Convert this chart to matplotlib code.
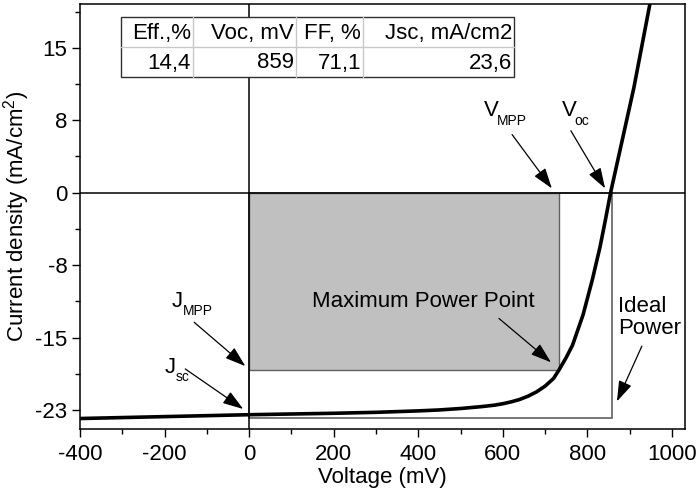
import numpy as np
import matplotlib
matplotlib.use('Agg')
import matplotlib.pyplot as plt
from matplotlib.patches import Rectangle
from matplotlib.ticker import MultipleLocator

plt.rcParams['font.family'] = ['Liberation Sans', 'DejaVu Sans']
plt.rcParams['axes.unicode_minus'] = False
plt.rcParams['mathtext.fontset'] = 'custom'
plt.rcParams['mathtext.rm'] = 'Liberation Sans'
plt.rcParams['mathtext.it'] = 'Liberation Sans'

# J-V curve
voltage = [-400, -200, 0, 200, 300, 400, 450, 500, 550, 580, 600, 620, 640,
           660, 680, 700, 720, 733, 750, 765, 790, 812, 830, 843, 855, 880,
           910, 948, 960]
current = [-23.7, -23.5, -23.3, -23.15, -23.05, -22.9, -22.8, -22.65, -22.45,
           -22.3, -22.15, -21.95, -21.7, -21.35, -20.9, -20.3, -19.5, -18.6,
           -17.3, -16.0, -12.8, -9.1, -5.7, -2.8, 0.0, 5.0, 11.0, 19.8, 22.5]

# cell parameters
v_oc = 859
j_sc = 23.6
v_mpp = 733
j_mpp = 18.6

table_headers = ['Eff.,%', 'Voc, mV', 'FF, %', 'Jsc, mA/cm2']
table_values = ['14,4', '859', '71,1', '23,6']

x_ticks = [-400, -200, 0, 200, 400, 600, 800, 1000]
y_ticks = [-22.8, -15.2, -7.6, 0, 7.6, 15.2]
y_tick_labels = ['-23', '-15', '-8', '0', '8', '15']

FS = 16
W, H = 698, 493
fig = plt.figure(figsize=(W / 100, H / 100), dpi=100)
ax = fig.add_axes([80 / W, 1 - 429 / H, 605 / W, 425 / H])

ax.set_xlim(-400, 1031)
ax.set_ylim(-24.8, 19.8)

# ideal power box and maximum power box
ax.add_patch(Rectangle((0, -j_sc), v_oc, j_sc, facecolor='none',
                       edgecolor='#606060', lw=1.2, zorder=2))
ax.add_patch(Rectangle((0, -j_mpp), v_mpp, j_mpp, facecolor='#c0c0c0',
                       edgecolor='#606060', lw=1.0, zorder=2))

ax.axhline(0, color='black', lw=1.1, zorder=3)
ax.axvline(0, color='black', lw=1.1, zorder=3)

ax.plot(voltage, current, color='black', lw=2.6, zorder=4)

ax.set_xticks(x_ticks)
ax.set_yticks(y_ticks)
ax.set_yticklabels(y_tick_labels)
ax.xaxis.set_minor_locator(MultipleLocator(100))
ax.yaxis.set_minor_locator(MultipleLocator(3.8))
ax.tick_params(which='major', direction='out', length=6, width=1,
               labelsize=FS, pad=3)
ax.tick_params(axis='x', which='major', pad=5)
ax.tick_params(which='minor', direction='out', length=3.5, width=1)
for s in ax.spines.values():
    s.set_linewidth(1.1)

ax.set_xlabel('Voltage (mV)', fontsize=FS, labelpad=1)
ax.set_ylabel('Current density (mA/cm$^2$)', fontsize=FS, labelpad=2)


def sub_label(x, y, main, sub, main_w):
    ax.text(x, y, main, fontsize=FS, ha='left', va='baseline')
    ax.annotate(sub, xy=(x, y), xytext=(main_w, -6), textcoords='offset points',
                fontsize=10, ha='left', va='baseline')


arr = dict(arrowstyle='-|>,head_length=0.9,head_width=0.3', color='black',
           lw=0.9, shrinkA=0, shrinkB=0, mutation_scale=14)

sub_label(556, 8.0, 'V', 'MPP', 9)
ax.annotate('', xy=(v_mpp - 17, 0.45), xytext=(622, 6.1), arrowprops=arr)

sub_label(740, 8.0, 'V', 'oc', 9)
ax.annotate('', xy=(v_oc - 17, 0.45), xytext=(761, 6.5), arrowprops=arr)

sub_label(-184, -12.0, 'J', 'MPP', 8)
ax.annotate('', xy=(-9, -j_mpp + 0.4), xytext=(-130, -13.6), arrowprops=arr)

sub_label(-199, -18.9, 'J', 'sc', 8)
ax.annotate('', xy=(-14, -j_sc + 0.9), xytext=(-151, -18.5), arrowprops=arr)

ax.text(412, -11.4, 'Maximum Power Point', fontsize=FS, ha='center',
        va='center', zorder=5)
ax.annotate('', xy=(v_mpp - 19, -j_mpp + 0.8), xytext=(591, -13.2),
            arrowprops=arr, zorder=5)

ax.text(872, -13.1, 'Ideal\nPower', fontsize=FS, ha='left', va='center',
        linespacing=1.05)
ax.annotate('', xy=(870, -21.9), xytext=(929, -16.1), arrowprops=arr)

# parameter table drawn in figure pixels
col_edges = [121, 193, 296, 363, 514]
row_edges = [17, 47, 77]
ft = fig.transFigure


def fx(px):
    return px / W


def fy(py):
    return 1 - py / H


fig.patches.append(Rectangle((fx(col_edges[0]), fy(row_edges[-1])),
                             fx(col_edges[-1]) - fx(col_edges[0]),
                             fy(row_edges[0]) - fy(row_edges[-1]),
                             transform=ft, facecolor='white',
                             edgecolor='#303030', lw=1.0, zorder=10))
for c in col_edges[1:-1]:
    fig.add_artist(plt.Line2D([fx(c), fx(c)], [fy(row_edges[0]), fy(row_edges[-1])],
                              transform=ft, color='#c8c8c8', lw=1.0, zorder=11))
fig.add_artist(plt.Line2D([fx(col_edges[0]), fx(col_edges[-1])],
                          [fy(row_edges[1]), fy(row_edges[1])],
                          transform=ft, color='#c8c8c8', lw=1.0, zorder=11))
for i in range(len(table_headers)):
    xr = fx(col_edges[i + 1] - 2)
    fig.text(xr, fy((row_edges[0] + row_edges[1]) / 2 + 1), table_headers[i],
             ha='right', va='center', fontsize=FS, zorder=12)
    fig.text(xr, fy((row_edges[1] + row_edges[2]) / 2 + 1), table_values[i],
             ha='right', va='center', fontsize=FS, zorder=12)

fig.savefig('out.png', dpi=100)
